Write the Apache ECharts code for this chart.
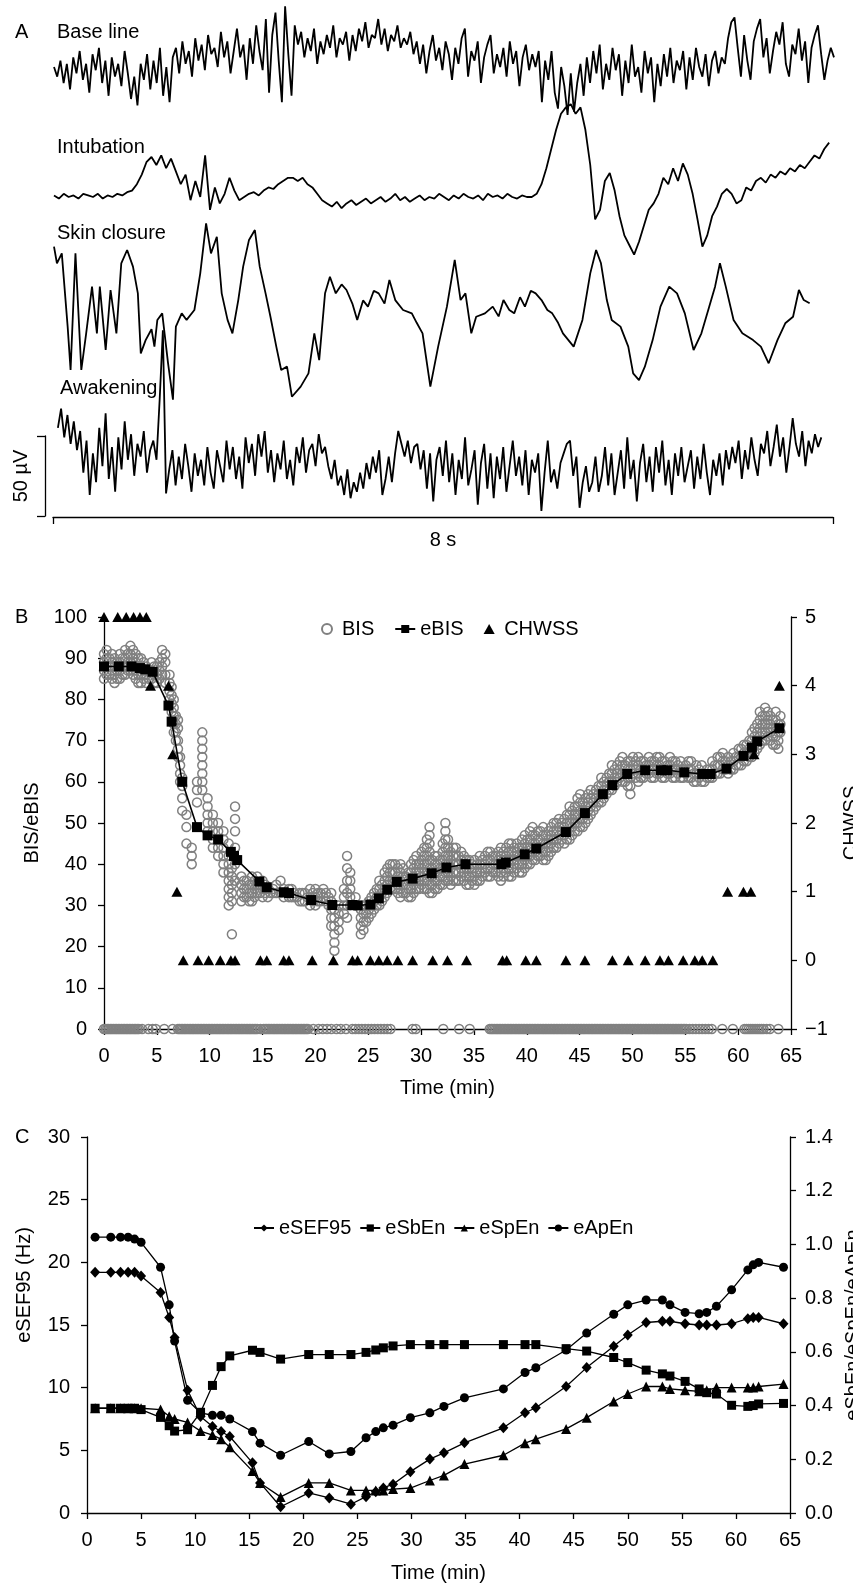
<!DOCTYPE html>
<html>
<head>
<meta charset="utf-8">
<title>EEG, BIS and entropy figure</title>
<script src="https://cdn.jsdelivr.net/npm/echarts@6/dist/echarts.min.js"></script>
<style>
  html, body { margin: 0; padding: 0; background: #fff; }
  #chart { width: 853px; height: 1588px; }
</style>
</head>
<body>
<div id="chart"></div>
<script>
// ---- panel A: raw EEG, amplitude in µV, evenly sampled over each trace ----
var baselineSpan = [0, 8];
var baselineUv = [0, -6, 4, -10, 2, -14, 6, -4, 10, -8, 2, -16, 8, -2, 12, -10, 4, -18, 6, -6,
  2, -12, 10, -4, -20, -6, -24, 2, -8, 8, -14, 4, -10, 12, -18, 0, -22, 6,
  12, -4, 16, 2, 10, -6, 18, 4, 14, -2, 20, 8, 12, 0, 22, 6, 16, -4, 10, 24, 6, 14, -8, 18, 2, 26, 10, -2,
  30, -16, 20, 34, 4, -22, 38, 8, -18, 26,
  14, 22, 6, 18, 10, 24, 2, 16, 8, 20, 12, 26, 6, 18, 14, 22, 4, 20, 10, 24, 16, 28, 12, 20, 18, 30, 14, 24, 10, 20, 16, 26, 12, 18,
  14, 22, 8, 16, 2, 14, -4, 10, 20, 4, 12, -2, 16, 8, -8, 12, 2, 18, 24, -6, 10, 4, 16, -10, 6, 14, 20, -4, 8, 0,
  12, -6, 16, 2, 10, -12, 6, 14, -2, 8, 0, 10,
  -22, 4, -8, 10, -16, -26, 0, -12, -30, -4, -28, -10, 2, -18,
  6, -10, 10, -4, 14, -14, 2, -8, 12, -2, 8, -18, 4, -10, 14, -6, 0, -16, 10, -4, 6, -22, 2, -12, 8, -6, 12, -10,
  4, -2, 10, -14, 6, -8, 12, 0, -6, 8, -12, 4, 10, -4, 6, 2,
  18, 28, 31, 12, -6, 20, 4, -8, 16, 24, 30, 6, 18, -4, 10, 22, 14, 28, 2, -6, 14, 8, 24, 4, 16, -10, 12, 20, 26, 8, -8, 4, 12, 6];

var intubationSpan = [0, 7.95];
var intubationUv = [1, -1, 2, 0, 1, -1, 2, 1, 0, 2, -1, 1, 0, 2, 1, 3, 4,
  8, 14, 22, 25, 20, 26, 18, 24, 16,
  8, 14, -2, 10, 0, 26, -8, 6, -4, 2, 12, 4,
  -2, 0, 2, 3, 1, 4, 6, 5, 8, 10, 12,
  12, 10, 12, 8, 6, 2, -2,
  -4, -6, -3, -7, -4, -2, -5, -3, -1, -4, -2, 0, -3, -1, 2, -2, 0, -3, -1, 1,
  -2, 0, -1, 2, 0, -2, 1, -1, 2, 0, -1, 1, -2, 2, 0, 1, -1, 2, 0, -1, 1, 0, 0,
  2, 8, 18, 30, 42, 52,
  56, 58, 52, 56, 42,
  20, -14, -8, 10,
  15, 4, -12, -24, -30, -36,
  -28, -18, -8, -4, 2, 12, 8, 18, 10, 21, 14, 2, -14, -31,
  -24, -12, -6, 2, 5, 2, -4, -2, 6, 4, 10, 12, 9, 14, 12, 16, 14, 18, 16, 20, 18, 22, 26, 24, 30, 34];

// skin closure read as [time s, µV]
var skinClosure = [[0, 39.6], [0.03, 29.2], [0.08, 35.4], [0.14, -10.4], [0.17, -37.5], [0.22, 35.4], [0.28, -37.5],
  [0.33, -14.6], [0.39, 14.6], [0.44, -14.6], [0.47, 14.6], [0.53, -25], [0.58, 12.5], [0.64, -14.6], [0.69, 29.2],
  [0.75, 37.5], [0.81, 27.1], [0.86, 10.4], [0.89, -27.1], [0.94, -18.8], [1.0, -12], [1.03, -22.9], [1.06, -6.2],
  [1.11, -2.1], [1.17, -33.3], [1.22, -56], [1.25, -10.4], [1.31, -2.1], [1.36, -6.2], [1.44, 0], [1.5, 22.9],
  [1.56, 54.2], [1.61, 35.4], [1.67, 45.8], [1.72, 10.4], [1.78, -6.2], [1.83, -14.6], [1.89, 6.2], [1.94, 27.1],
  [2.0, 43.8], [2.06, 50], [2.11, 27.1], [2.17, 10.4], [2.22, -4.2], [2.28, -22.9], [2.33, -37.5], [2.39, -35.4],
  [2.44, -54.2], [2.53, -47.9], [2.61, -39.6], [2.67, -14.6], [2.72, -31.3], [2.78, 10.4], [2.83, 20.8], [2.89, 10.4],
  [2.95, 16], [3.0, 12.5], [3.06, 4], [3.11, -6.2], [3.17, 6], [3.22, 2.1], [3.28, 12], [3.33, 10.4], [3.39, 4],
  [3.44, 18.8], [3.5, 6.2], [3.58, 0], [3.67, -2.1], [3.72, -8], [3.78, -14.6], [3.86, -47.9], [3.94, -22.9],
  [4.03, 2.1], [4.11, 31.3], [4.17, 6.2], [4.22, 10.4], [4.28, -14.6], [4.33, -4.2], [4.42, -2.1], [4.5, 2.1],
  [4.56, -4], [4.61, 6.2], [4.67, 0], [4.72, -2.1], [4.78, 8], [4.83, 2.1], [4.89, 12], [4.94, 10.4], [5.0, 6.2],
  [5.06, 0], [5.11, -2.1], [5.17, -8], [5.22, -14.6], [5.33, -22.9], [5.42, -6.2], [5.5, 22.9], [5.56, 37.5],
  [5.61, 29.2], [5.67, 6.2], [5.72, -6.2], [5.81, -10.4], [5.89, -22.9], [5.94, -39.6], [6.0, -43.8], [6.06, -35.4],
  [6.14, -18.8], [6.22, 2.1], [6.31, 14.6], [6.39, 10.4], [6.47, -2.1], [6.56, -25], [6.64, -14.6], [6.72, 2.1],
  [6.78, 14.6], [6.83, 29.2], [6.89, 14.6], [6.97, -6.2], [7.06, -14.6], [7.17, -18.8], [7.25, -22.9], [7.33, -33.3],
  [7.42, -18.8], [7.5, -8.3], [7.58, -4.2], [7.64, 12.5], [7.69, 6.2], [7.75, 4.2]];

var awakeningSpan = [0.04, 7.87];
var awakeningUv = [22, 34, 16, 30, 12, 26, 8, 20,
  -6, 14, -20, 6, -12, 22, -2, 31, -10, 10, -18, 16, -4, 26, 2, 18, -8, 12, 4, 20, -6, 8, 14, 2,
  40, 83, -19,
  -4, 8, -14, 4, -10, 12, -2, -18, 6, -8, 2, -14, 10, -6, -16, 8, -2, -12, 14, -4,
  10, -10, 4, -16, 16, 0, 12, -8, 18, 4, 20, -6, 8, -12, 6, -4, 14, -10, 2, -14, 10, 0, 16, -6, 8, 12, -2, 18, 6,
  10, -2, -10, 2, -14, -8, -20, -4, -22, -12, -18, -6, -16, 0, -10,
  4, -6, 8, -20, -10, 4, -12, 6, 20, 12, 4, 14, 0, 10,
  12, -4, 8, -16, 6, -24, 2, 10, -8, 14, -12, 6, -20, 2, -10, 16, -14, -4, 8, -26,
  0, 12, -16, 6, -22, 4, -10, 10, -18, -2, 14, -8, 4, -14, 8, -20, 2, -6, 6, -30,
  -6, 14, -12, -4, -16, 0, 6, 12, 14, -8, 4, -28, -12, -2, -18,
  -12, 4, -18, -8, 10, -14, 6, -20, -6, 8, -16, 16, -10, 2, -24, 0, 12, -12, 4, -18, 10, -6, 14,
  -14, 2, -20, 6, -8, 10, -12, -2, 8, -16, 4, -10, 12, -6, -20, 2, -8, 6, -14, 8, -4, 10,
  0, 14, -10, 8, -4, 16, 2, -8, 12, 6, 20, -2, 10, 24, 4, 16, -6, 10, 28, 12, 4, 20, -2, 14, 6, 18, 10, 16];

// ---- panel B ----
// BIS readings, each row: time (min) followed by the values seen at that time
var bisCloud = [
  [0.0, 85, 87, 89, 91], [0.25, 86, 88, 90, 92], [0.5, 86, 88, 90], [0.75, 85, 87, 89, 91], [1.0, 84, 86, 88, 90],
  [1.25, 85, 87, 89], [1.5, 85, 87, 89, 91], [1.75, 86, 88, 90], [2.0, 86, 88, 90, 92], [2.25, 87, 89, 91],
  [2.5, 87, 89, 91, 93], [2.75, 86, 88, 90, 92], [3.0, 85, 87, 89, 91], [3.25, 84, 86, 88, 90], [3.5, 84, 86, 88, 90],
  [3.75, 85, 87, 89], [4.0, 84, 86, 88], [4.25, 85, 87], [4.5, 85, 87, 89], [4.75, 84, 86, 88], [5.0, 84, 86, 88],
  [5.25, 85, 87, 89], [5.5, 86, 88, 90, 92], [5.8, 84, 86, 89, 91], [6.2, 80, 82, 84, 86], [6.4, 77, 79, 81, 83],
  [6.6, 72, 74, 76, 78, 80], [6.8, 70, 72, 74, 76], [7.0, 66, 68, 70, 73, 75], [7.2, 60, 62, 64, 66],
  [7.4, 53, 56, 59, 61], [7.8, 45, 49, 52], [8.3, 40, 42, 44], [8.8, 55, 58, 60],
  [9.3, 58, 60, 62, 64, 66, 68, 70, 72], [9.8, 48, 50, 52, 54, 56], [10.3, 44, 46, 48, 50, 52], [10.8, 42, 44, 46, 48, 50],
  [11.3, 38, 40, 42, 44, 46, 48], [11.8, 30, 32, 34, 36, 38, 40, 42, 45], [12.1, 23, 31, 33, 35, 37, 39],
  [12.4, 36, 40, 44, 48, 51, 54], [13.0, 31, 33, 35, 37], [13.25, 32, 34, 36], [13.5, 32, 34, 36], [13.75, 31, 33, 35],
  [14.0, 31, 33, 35, 37], [14.25, 32, 34, 36], [14.5, 33, 35, 37], [14.75, 33, 35], [15.0, 32, 34, 36], [15.25, 33, 35],
  [15.5, 32, 34], [15.75, 33], [16.0, 33, 34], [16.3, 33, 35], [16.7, 33, 36], [17.0, 32, 34], [17.25, 33],
  [17.5, 32, 34], [17.75, 32, 34], [18.0, 32, 33], [18.25, 32], [18.5, 31, 33], [18.75, 31, 33], [19.0, 31, 33],
  [19.25, 32], [19.5, 30, 32, 34], [19.75, 31, 33], [20.0, 30, 32, 34], [20.25, 31, 33], [20.5, 31, 33],
  [20.75, 32, 34], [21.0, 31, 33], [21.25, 30, 32],
  [21.5, 25, 27, 29, 31, 33], [21.8, 19, 21, 23, 25, 27, 29], [22.2, 24, 26, 28, 30], [22.7, 28, 30, 32, 34],
  [23.0, 27, 30, 33, 36, 39, 42], [23.3, 30, 32, 34, 36, 38], [23.8, 30, 32], [24.3, 23, 25, 27, 29],
  [24.55, 24, 26, 28, 30], [24.8, 26, 28, 30], [25.05, 27, 29, 31], [25.3, 28, 30, 32], [25.55, 29, 31, 33],
  [25.8, 30, 32, 34], [26.05, 30, 32, 34, 36], [26.3, 31, 33, 35], [26.55, 32, 34, 36, 38], [26.8, 33, 35, 37, 39],
  [27.05, 34, 36, 38, 40], [27.3, 34, 36, 38, 40], [27.55, 34, 36, 38, 40], [27.8, 33, 35, 37, 39],
  [28.05, 32, 34, 36, 38, 40], [28.3, 33, 35, 37, 39], [28.55, 33, 35, 37], [28.8, 32, 34, 36, 38],
  [29.05, 32, 34, 36, 38, 40], [29.3, 33, 35, 37, 39, 41], [29.55, 34, 36, 38, 40, 42], [29.8, 34, 36, 38, 40],
  [30.05, 35, 37, 39, 41, 43], [30.3, 34, 36, 38, 40, 42, 44], [30.55, 34, 36, 38, 40, 42, 44, 46],
  [30.8, 33, 35, 37, 39, 41, 43, 45, 47, 49], [31.05, 33, 35, 37, 39, 41], [31.3, 34, 36, 38, 40, 42],
  [31.55, 34, 36, 38, 40, 42], [31.8, 35, 37, 39, 41], [32.05, 35, 37, 39, 41, 43, 45],
  [32.3, 36, 38, 40, 42, 44, 46, 48, 50], [32.55, 36, 38, 40, 42, 44, 46], [32.8, 35, 37, 39, 41, 43],
  [33.05, 36, 38, 40, 42, 44], [33.3, 36, 38, 40, 42, 44], [33.55, 36, 38, 40, 42], [33.8, 37, 39, 41, 43],
  [34.05, 36, 38, 40, 42], [34.3, 35, 37, 39, 41], [34.55, 35, 37, 39, 41], [34.8, 36, 38, 40], [35.05, 35, 37, 39, 41],
  [35.3, 36, 38, 40], [35.55, 36, 38, 40, 42], [35.8, 37, 39, 41], [36.05, 38, 40, 42], [36.3, 37, 39, 41, 43],
  [36.55, 37, 39, 41, 43], [36.8, 38, 40, 42], [37.05, 38, 40, 42], [37.3, 37, 39, 41, 43], [37.55, 36, 38, 40, 42, 44],
  [37.8, 37, 39, 41, 43], [38.05, 38, 40, 42, 44], [38.3, 37, 39, 41, 43, 45], [38.55, 37, 39, 41, 43, 45],
  [38.8, 38, 40, 42, 44], [39.05, 39, 41, 43, 45], [39.3, 38, 40, 42, 44], [39.55, 38, 40, 42, 44, 46],
  [39.8, 39, 41, 43, 45, 47], [40.05, 40, 42, 44, 46], [40.3, 40, 42, 44, 46, 48], [40.55, 41, 43, 45, 47, 49],
  [40.8, 41, 43, 45, 47], [41.05, 42, 44, 46, 48], [41.3, 42, 44, 46, 48], [41.55, 41, 43, 45, 47, 49],
  [41.8, 41, 43, 45, 47], [42.05, 42, 44, 46, 48], [42.3, 43, 45, 47, 49], [42.55, 44, 46, 48, 50],
  [42.8, 44, 46, 48, 50], [43.05, 45, 47, 49, 51], [43.3, 46, 48, 50], [43.55, 45, 47, 49, 51], [43.8, 46, 48, 50, 52],
  [44.05, 46, 48, 50, 52, 54], [44.3, 47, 49, 51, 53], [44.55, 48, 50, 52, 54], [44.8, 48, 50, 52, 54, 56],
  [45.05, 49, 51, 53, 55, 57], [45.3, 49, 51, 53, 55], [45.55, 50, 52, 54, 56], [45.8, 51, 53, 55, 57],
  [46.05, 52, 54, 56, 58], [46.3, 53, 55, 57], [46.55, 54, 56, 58], [46.8, 55, 57, 59], [47.05, 55, 57, 59, 61],
  [47.3, 56, 58, 60], [47.55, 57, 59, 61], [47.8, 58, 60, 62], [48.05, 58, 60, 62, 64], [48.3, 59, 61, 63],
  [48.55, 60, 62, 64], [48.8, 61, 63, 65], [49.05, 60, 62, 64, 66], [49.3, 60, 62, 64], [49.55, 59, 61, 63, 65],
  [49.8, 57, 59, 61, 63, 65], [50.05, 62, 64, 66], [50.3, 61, 63, 65], [50.55, 60, 62, 64, 66], [50.8, 61, 63, 65],
  [51.05, 61, 63, 65], [51.3, 62, 64], [51.55, 62, 64, 66], [51.8, 61, 63, 65], [52.05, 61, 63, 65], [52.3, 62, 64, 66],
  [52.55, 62, 64, 66], [52.8, 61, 63, 65], [53.05, 61, 63, 65], [53.3, 62, 64], [53.55, 62, 64, 66], [53.8, 61, 63, 65],
  [54.05, 61, 63, 65], [54.3, 62, 64], [54.55, 61, 63, 65], [54.8, 61, 63], [55.05, 62, 64], [55.3, 61, 63, 65],
  [55.55, 61, 63, 65], [55.8, 60, 62], [56.05, 60, 62, 64], [56.3, 61, 63], [56.55, 60, 62, 64], [56.8, 60, 62],
  [57.05, 61, 63], [57.3, 61, 63], [57.55, 61, 63, 65], [57.8, 62, 64], [58.05, 62, 64, 66], [58.3, 62, 64, 66],
  [58.55, 63, 65, 67], [58.8, 63, 65], [59.05, 62, 64, 66], [59.3, 63, 65], [59.55, 63, 65, 67], [59.8, 64, 66],
  [60.05, 64, 66, 68], [60.3, 64, 66, 68], [60.55, 65, 67, 69], [60.8, 65, 67, 69], [61.05, 66, 68, 70],
  [61.3, 66, 68, 70, 72], [61.55, 67, 69, 71, 73], [61.8, 68, 70, 72, 74], [62.05, 69, 71, 73, 75, 77],
  [62.3, 70, 72, 74, 76], [62.55, 70, 72, 74, 76, 78], [62.8, 71, 73, 75, 77], [63.05, 70, 72, 74, 76],
  [63.3, 69, 71, 73, 75], [63.55, 69, 71, 73, 75, 77], [63.8, 68, 70, 72, 74], [64.0, 72, 74, 76]
];
// times (min) at which BIS dropped to 0
var bisZeroTimes = [0, 0.15, 0.3, 0.45, 0.6, 0.75, 0.9, 1.05, 1.2, 1.35, 1.5, 1.65, 1.8, 1.95, 2.1, 2.25, 2.4,
  2.55, 2.7, 2.85, 3.0, 3.15, 3.3, 3.6, 4.2, 4.6, 4.9, 5.7, 6.5,
  7.0, 7.15, 7.3, 7.45, 7.6, 7.75, 7.9, 8.05, 8.2, 8.35, 8.5, 8.65, 8.8, 8.95, 9.1, 9.25, 9.4, 9.55, 9.7, 9.85,
  10.0, 10.15, 10.3, 10.45, 10.6, 10.75, 10.9, 11.05, 11.2, 11.35, 11.5, 11.65, 11.8, 11.95, 12.1, 12.25, 12.4,
  12.55, 12.7, 12.85, 13.0, 13.15, 13.3, 13.45, 13.6, 13.75, 13.9, 14.05, 14.2, 14.35, 14.5, 14.8, 15.1, 15.25,
  15.4, 15.55, 15.7, 15.85, 16.0, 16.15, 16.3, 16.45, 16.6, 16.75, 16.9, 17.05, 17.2, 17.35, 17.5, 17.65, 17.8,
  17.95, 18.1, 18.25, 18.4, 18.55, 18.7, 18.85, 19.0, 19.15, 19.3,
  19.8, 20.3, 20.7, 21.1, 21.5, 22.0, 22.4, 22.9, 23.5, 23.8, 24.1, 24.4, 24.7, 25.0,
  25.3, 25.6, 25.9, 26.2, 26.5, 26.8, 27.1, 29.2, 29.5, 32.1, 33.6, 34.6,
  36.5, 36.65, 36.8, 36.95, 37.1, 37.25, 37.4, 37.55, 37.7, 37.85, 38.0, 38.15, 38.3, 38.45, 38.6, 38.75, 38.9,
  39.05, 39.2, 39.35, 39.5, 39.65, 39.8, 39.95, 40.1, 40.25, 40.4, 40.55, 40.7, 40.85, 41.0, 41.15, 41.3, 41.45,
  41.6, 41.75, 41.9, 42.05, 42.2, 42.35, 42.5, 42.65, 42.8, 42.95, 43.1, 43.25, 43.4, 43.55, 43.7, 43.85, 44.0,
  44.15, 44.3, 44.45, 44.6, 44.75, 44.9, 45.05, 45.2, 45.35, 45.5, 45.65, 45.8, 45.95, 46.1, 46.25, 46.4, 46.55,
  46.7, 46.85, 47.0, 47.15, 47.3, 47.45, 47.6, 47.75, 47.9, 48.05, 48.2, 48.35, 48.5, 48.65, 48.8, 48.95, 49.1,
  49.25, 49.4, 49.55, 49.7, 49.85, 50.0, 50.15, 50.3, 50.45, 50.6, 50.75, 50.9, 51.05, 51.2, 51.35, 51.5, 51.65,
  51.8, 51.95, 52.1, 52.25, 52.4, 52.55, 52.7, 52.85, 53.0, 53.15, 53.3, 53.45, 53.6, 53.75, 53.9, 54.05, 54.2,
  54.35, 54.5, 54.65, 54.8, 54.95, 55.1, 55.4, 55.7, 56.0, 56.3, 56.6, 56.9, 57.2, 57.5,
  58.5, 59.5, 60.6, 60.8, 61.0, 61.2, 61.4, 61.6, 61.8, 62.0, 62.2, 62.4, 62.7, 63.0, 63.8];

var ebisTime = [0, 1.4, 2.6, 3.4, 3.9, 4.6, 6.1, 6.4, 7.4, 8.8, 9.8, 10.8, 12.0, 12.3, 12.6, 14.7, 15.4, 17.0, 17.5,
  19.6, 21.6, 23.5, 24.0, 25.2, 26.0, 26.8, 27.7, 29.2, 31.0, 32.4, 34.2, 37.6, 38.0, 39.8, 40.9, 43.7, 45.5, 47.2,
  48.1, 49.5, 51.2, 52.7, 53.3, 54.9, 56.6, 57.4, 58.9, 60.5, 61.3, 61.8, 63.9];
var ebisValue = [88, 88, 88, 87.6, 87.3, 86.7, 78.5, 74.6, 60, 49, 47, 46, 43, 42, 41, 35.8, 34.4, 33.2, 33,
  31.3, 30.1, 30.1, 30, 30.2, 31.7, 33.8, 35.7, 36.5, 37.8, 39.2, 40, 40, 40.4, 42.4, 43.8, 47.8, 52.4, 57,
  59.2, 61.9, 62.8, 62.8, 62.8, 62.3, 61.9, 61.9, 63.2, 66.3, 68.3, 69.8, 73];

var chwssTime = [0, 1.3, 2.1, 2.8, 3.4, 4.0, 4.4, 6.1, 6.5, 6.9,
  7.5, 8.9, 9.9, 11.0, 12.0, 12.4, 14.8, 15.4, 17.0, 17.5, 19.7, 21.7, 23.5, 24.0, 25.2, 26.0, 26.8, 27.8,
  29.2, 31.1, 32.5, 34.3, 37.7, 38.1, 39.9, 40.9, 43.7, 45.5, 48.1, 49.6, 51.2, 52.6, 53.4, 54.8, 55.9, 56.6, 57.6,
  59.0, 60.5, 61.2, 61.5, 63.9];
var chwssValue = [5, 5, 5, 5, 5, 5, 4, 4, 3, 1,
  0, 0, 0, 0, 0, 0, 0, 0, 0, 0, 0, 0, 0, 0, 0, 0, 0, 0,
  0, 0, 0, 0, 0, 0, 0, 0, 0, 0, 0, 0, 0, 0, 0, 0, 0, 0, 0,
  1, 1, 1, 3, 4];

// ---- panel C ----
var cTime = [0.75, 2.2, 3.1, 3.8, 4.4, 5.0, 6.8, 7.6, 8.1, 9.3, 10.5, 11.6, 12.4, 13.2, 15.3, 16.0, 17.9, 20.5,
  22.4, 24.4, 25.8, 26.7, 27.4, 28.3, 29.9, 31.7, 33.0, 34.9, 38.5, 40.5, 41.5, 44.3, 46.2, 48.7, 50.0, 51.7,
  53.2, 53.9, 55.3, 56.6, 57.3, 58.2, 59.6, 61.1, 61.6, 62.1, 64.4];
var eSEF95 = [19.2, 19.2, 19.2, 19.2, 19.2, 18.9, 17.6, 15.6, 14.0, 9.8, 7.7, 6.9, 6.5, 6.1, 4.0, 2.4, 0.5, 1.6,
  1.2, 0.7, 1.3, 1.7, 2.0, 2.3, 3.3, 4.3, 4.8, 5.6, 6.8, 8.0, 8.4, 10.1, 11.6, 13.3, 14.2, 15.2,
  15.3, 15.3, 15.1, 15.0, 15.0, 15.0, 15.1, 15.5, 15.6, 15.6, 15.1];
var eSbEn = [0.39, 0.39, 0.39, 0.39, 0.39, 0.385, 0.356, 0.325, 0.305, 0.31, 0.375, 0.475, 0.545, 0.585, 0.606, 0.598, 0.573, 0.59,
  0.59, 0.59, 0.598, 0.607, 0.615, 0.622, 0.627, 0.627, 0.627, 0.627, 0.627, 0.627, 0.627, 0.612, 0.603, 0.579, 0.56, 0.532,
  0.518, 0.51, 0.49, 0.462, 0.448, 0.443, 0.401, 0.397, 0.40, 0.406, 0.408];
var eSpEn = [0.39, 0.39, 0.39, 0.39, 0.39, 0.39, 0.385, 0.36, 0.35, 0.337, 0.305, 0.29, 0.275, 0.245, 0.156, 0.112, 0.06, 0.112,
  0.112, 0.084, 0.084, 0.084, 0.084, 0.089, 0.093, 0.121, 0.14, 0.182, 0.215, 0.26, 0.275, 0.313, 0.355, 0.415, 0.443, 0.471,
  0.471, 0.462, 0.457, 0.453, 0.457, 0.467, 0.467, 0.467, 0.467, 0.471, 0.48];
var eApEn = [1.027, 1.027, 1.027, 1.027, 1.02, 1.008, 0.915, 0.775, 0.64, 0.42, 0.373, 0.364, 0.364, 0.35, 0.303, 0.26, 0.215, 0.266,
  0.22, 0.229, 0.28, 0.303, 0.317, 0.327, 0.355, 0.373, 0.397, 0.429, 0.462, 0.523, 0.541, 0.607, 0.67, 0.74, 0.775, 0.793,
  0.793, 0.775, 0.747, 0.742, 0.747, 0.77, 0.831, 0.905, 0.924, 0.933, 0.915];

var FONT = '"Liberation Sans", Arial, Helvetica, sans-serif';
var FS = 20;
var INK = '#000';
var TRIANGLE = 'path://M5,0 L10,9 L0,9 Z';

function spread(values, span) {
  var n = values.length;
  return values.map(function (v, i) {
    return [span[0] + (span[1] - span[0]) * i / (n - 1), v];
  });
}

function pairs(xs, ys) {
  return xs.map(function (x, i) { return [x, ys[i]]; });
}

function flattenCloud(rows, zeros) {
  var out = [];
  rows.forEach(function (row) {
    for (var k = 1; k < row.length; k++) {
      out.push([row[0], row[k]]);
    }
  });
  zeros.forEach(function (t) { out.push([t, 0]); });
  return out;
}

function hiddenAxis(grid, min, max) {
  return { type: 'value', gridIndex: grid, min: min, max: max, show: false };
}

function minusSign(v) {
  return String(v).replace('-', '\u2212');
}

function textStyle() {
  return { fontSize: FS, color: INK, fontFamily: FONT };
}

// grids keep the positions given, labels may run past the canvas edge
function box(left, top, width, height) {
  return { left: left, top: top, width: width, height: height, outerBoundsMode: 'none', containLabel: false };
}

function plotX(grid, gap) {
  return {
    type: 'value', gridIndex: grid, min: 0, max: 65, interval: 5,
    axisLine: { show: true, onZero: false, lineStyle: { color: INK, width: 1.3 } },
    axisTick: { show: true, length: 6, lineStyle: { color: INK, width: 1.3 } },
    axisLabel: { fontSize: FS, color: INK, fontFamily: FONT, margin: 17 },
    splitLine: { show: false },
    name: 'Time (min)', nameLocation: 'middle', nameGap: gap,
    nameTextStyle: textStyle()
  };
}

function plotY(grid, pos, min, max, interval, name, gap, margin, fmt) {
  return {
    type: 'value', gridIndex: grid, position: pos, min: min, max: max, interval: interval,
    axisLine: { show: true, onZero: false, lineStyle: { color: INK, width: 1.3 } },
    axisTick: { show: true, length: 6, lineStyle: { color: INK, width: 1.3 } },
    axisLabel: { fontSize: FS, color: INK, fontFamily: FONT, margin: margin, formatter: fmt },
    splitLine: { show: false },
    name: name, nameLocation: 'middle', nameGap: gap, nameRotate: 90,
    nameTextStyle: textStyle()
  };
}

function trace(name, idx, data) {
  return {
    name: name, type: 'line', xAxisIndex: idx, yAxisIndex: idx, data: data,
    showSymbol: false, lineStyle: { color: INK, width: 1.8 }, silent: true
  };
}

function label(text, x, y) {
  return {
    type: 'text', x: x, y: y, z: 100,
    style: { text: text, fill: INK, font: FS + 'px ' + FONT, verticalAlign: 'middle' }
  };
}

var chart = echarts.init(document.getElementById('chart'));

var option = {
  animation: false,
  backgroundColor: '#fff',
  grid: [
    box(54, 3, 780, 144),
    box(54, 85, 780, 192),
    box(54, 198, 780, 224),
    box(54, 303, 780, 240),
    box(45, 436, 8, 80),
    box(53, 497, 780, 20),
    box(104, 617, 687, 412),
    box(87, 1137, 703, 376)
  ],
  xAxis: [
    hiddenAxis(0, 0, 8),
    hiddenAxis(1, 0, 8),
    hiddenAxis(2, 0, 8),
    hiddenAxis(3, 0, 8),
    hiddenAxis(4, 0, 1),
    {
      type: 'value', gridIndex: 5, min: 0, max: 8, interval: 8,
      axisLine: { show: true, lineStyle: { color: INK, width: 1.3 } },
      axisTick: { show: true, length: 7, lineStyle: { color: INK, width: 1.3 } },
      axisLabel: { show: false }, splitLine: { show: false },
      name: '8 s', nameLocation: 'middle', nameGap: 13,
      nameTextStyle: textStyle()
    },
    plotX(6, 49),
    plotX(7, 50)
  ],
  yAxis: [
    hiddenAxis(0, -50, 40),
    hiddenAxis(1, -50, 70),
    hiddenAxis(2, -70, 70),
    hiddenAxis(3, -50, 100),
    {
      type: 'value', gridIndex: 4, min: 0, max: 50, interval: 50,
      axisLine: { show: true, lineStyle: { color: INK, width: 1.3 } },
      axisTick: { show: true, length: 8, lineStyle: { color: INK, width: 1.3 } },
      axisLabel: { show: false }, splitLine: { show: false },
      name: '50 \u00b5V', nameLocation: 'middle', nameGap: 14, nameRotate: 90,
      nameTextStyle: textStyle()
    },
    hiddenAxis(5, 0, 1),
    plotY(6, 'left', 0, 100, 10, 'BIS/eBIS', 56, 17),
    plotY(6, 'right', -1, 5, 1, 'CHWSS', 50, 14, minusSign),
    plotY(7, 'left', 0, 30, 5, '', 52, 17),
    plotY(7, 'right', 0, 1.4, 0.2, 'eSbEn/eSpEn/eApEn', 51, 15, function (v) { return v.toFixed(1); })
  ],
  legend: [
    {
      data: [{ name: 'BIS', icon: 'circle' }, 'eBIS', { name: 'CHWSS', icon: TRIANGLE }],
      left: 316, top: 614, itemGap: 20, itemWidth: 20, itemHeight: 10,
      textStyle: textStyle()
    },
    {
      data: ['eSEF95', 'eSbEn', 'eSpEn', 'eApEn'],
      left: 248, top: 1213, itemGap: 8, itemWidth: 20, itemHeight: 9,
      textStyle: textStyle()
    }
  ],
  graphic: [
    label('A', 15, 32),
    label('Base line', 57, 32),
    label('Intubation', 57, 147),
    label('Skin closure', 57, 233),
    label('Awakening', 60, 388),
    label('B', 15, 617),
    label('C', 15, 1137),
    {
      type: 'text', x: 24, y: 1285, rotation: Math.PI / 2, z: 100,
      style: { text: 'eSEF95 (Hz)', fill: INK, font: FS + 'px ' + FONT, align: 'center', verticalAlign: 'middle' }
    }
  ],
  series: [
    trace('Base line', 0, spread(baselineUv, baselineSpan)),
    trace('Intubation', 1, spread(intubationUv, intubationSpan)),
    trace('Skin closure', 2, skinClosure),
    trace('Awakening', 3, spread(awakeningUv, awakeningSpan)),
    {
      name: 'BIS', type: 'scatter', xAxisIndex: 6, yAxisIndex: 6, z: 2,
      data: flattenCloud(bisCloud, bisZeroTimes),
      symbol: 'circle', symbolSize: 9,
      itemStyle: { color: 'rgba(255,255,255,0)', borderColor: '#808080', borderWidth: 1.5, opacity: 1 }
    },
    {
      name: 'eBIS', type: 'line', xAxisIndex: 6, yAxisIndex: 6, z: 3,
      data: pairs(ebisTime, ebisValue),
      symbol: 'rect', symbolSize: 10, showAllSymbol: true,
      lineStyle: { color: INK, width: 1.6 }, itemStyle: { color: INK, opacity: 1 }
    },
    {
      name: 'CHWSS', type: 'scatter', xAxisIndex: 6, yAxisIndex: 7, z: 4,
      data: pairs(chwssTime, chwssValue),
      symbol: 'triangle', symbolSize: [11, 10], itemStyle: { color: INK, opacity: 1 }
    },
    {
      name: 'eSEF95', type: 'line', xAxisIndex: 7, yAxisIndex: 8,
      data: pairs(cTime, eSEF95), symbol: 'diamond', symbolSize: [10, 11], showAllSymbol: true,
      lineStyle: { color: INK, width: 1.3 }, itemStyle: { color: INK }
    },
    {
      name: 'eSbEn', type: 'line', xAxisIndex: 7, yAxisIndex: 9,
      data: pairs(cTime, eSbEn), symbol: 'rect', symbolSize: 9, showAllSymbol: true,
      lineStyle: { color: INK, width: 1.3 }, itemStyle: { color: INK }
    },
    {
      name: 'eSpEn', type: 'line', xAxisIndex: 7, yAxisIndex: 9,
      data: pairs(cTime, eSpEn), symbol: 'triangle', symbolSize: 10, showAllSymbol: true,
      lineStyle: { color: INK, width: 1.3 }, itemStyle: { color: INK }
    },
    {
      name: 'eApEn', type: 'line', xAxisIndex: 7, yAxisIndex: 9,
      data: pairs(cTime, eApEn), symbol: 'circle', symbolSize: 9, showAllSymbol: true,
      lineStyle: { color: INK, width: 1.3 }, itemStyle: { color: INK }
    }
  ]
};

chart.setOption(option);
</script>
</body>
</html>
